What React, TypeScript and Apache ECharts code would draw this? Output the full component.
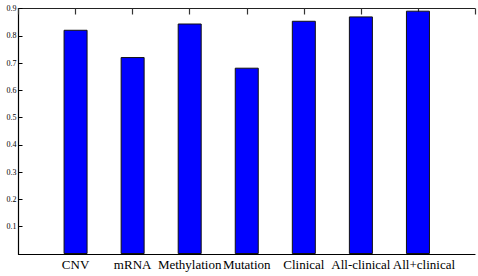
import React, { useEffect, useRef } from "react";
import * as echarts from "echarts";

const categories = ["CNV", "mRNA", "Methylation", "Mutation", "Clinical", "All-clinical", "All+clinical"];
const values = [0.822, 0.722, 0.845, 0.683, 0.855, 0.871, 0.892];
const yTicks = ["0.1", "0.2", "0.3", "0.4", "0.5", "0.6", "0.7", "0.8", "0.9"];

const SERIF = "Liberation Serif";

export default function App() {
  const ref = useRef<HTMLDivElement>(null);
  useEffect(() => {
    if (!ref.current) return;
    const chart = echarts.init(ref.current, null, { renderer: "svg" });
    const data = values.map((v, i) => [i + 1, v]);
    const last = categories.length;
    chart.setOption({
      animation: false,
      backgroundColor: "#fff",
      textStyle: { fontFamily: SERIF },
      grid: { left: 18.5, right: -10, top: 8.5, bottom: 22, containLabel: false },
      xAxis: [
        {
          type: "value",
          min: 0,
          max: 8,
          interval: 1,
          position: "bottom",
          axisLine: { show: true, lineStyle: { color: "#000", width: 1.2 } },
          axisTick: { show: false },
          splitLine: { show: false },
          axisLabel: {
            margin: 4,
            color: "#000",
            formatter: (v: number) => {
              const name = categories[v - 1];
              if (!name) return "";
              return (v === last ? "{b|" : "{a|") + name + "}";
            },
            rich: {
              a: { fontFamily: SERIF, fontSize: 13, color: "#000" },
              b: { fontFamily: SERIF, fontSize: 13, color: "#000", padding: [0, 0, 0, 12] },
            },
          },
        },
        {
          type: "value",
          min: 0,
          max: 8,
          interval: 1,
          position: "top",
          show: true,
          axisLine: { show: true, onZero: false, lineStyle: { color: "#222", width: 1 } },
          axisTick: { show: true, inside: true, length: 6, lineStyle: { color: "#333", width: 1.2 } },
          splitLine: { show: false },
          axisLabel: { show: false },
        },
      ],
      yAxis: {
        type: "value",
        min: 0,
        max: 0.9,
        interval: 0.1,
        axisLine: { show: true, lineStyle: { color: "#000", width: 1.2 } },
        axisTick: { show: true, inside: true, length: 4, lineStyle: { color: "#000" } },
        splitLine: { show: false },
        axisLabel: {
          margin: 2,
          fontFamily: SERIF,
          fontSize: 8,
          color: "#000",
          formatter: (v: number) => {
            const idx = Math.round(v * 10) - 1;
            return idx >= 0 ? yTicks[idx] : "";
          },
        },
      },
      series: [
        {
          type: "bar",
          xAxisIndex: 0,
          data,
          barWidth: 24,
          itemStyle: { color: "#0000ff", borderColor: "#111", borderWidth: 1 },
        },
        {
          type: "line",
          xAxisIndex: 1,
          data,
          showSymbol: false,
          silent: true,
          lineStyle: { opacity: 0 },
        },
      ],
    });
    return () => chart.dispose();
  }, []);
  return <div ref={ref} style={{ width: 478, height: 276, position: "absolute", left: 0, top: 0 }} />;
}
